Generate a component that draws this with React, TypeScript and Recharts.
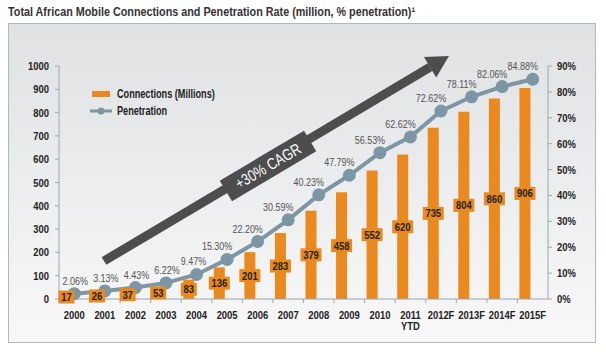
import React from 'react';
import { ComposedChart, Bar, Line, XAxis, YAxis, LabelList, Customized } from 'recharts';

// --- Data ---
const years = ['2000', '2001', '2002', '2003', '2004', '2005', '2006', '2007', '2008', '2009', '2010', '2011\nYTD', '2012F', '2013F', '2014F', '2015F'];
const connections = [17, 26, 37, 53, 83, 136, 201, 283, 379, 458, 552, 620, 735, 804, 860, 906];
const penetration = [2.06, 3.13, 4.43, 6.22, 9.47, 15.30, 22.20, 30.59, 40.23, 47.79, 56.53, 62.62, 72.62, 78.11, 82.06, 84.88];
const leftTicks = [0, 100, 200, 300, 400, 500, 600, 700, 800, 900, 1000];
const rightTicks = [0, 10, 20, 30, 40, 50, 60, 70, 80, 90];

const data = years.map((year, i) => ({ year, connections: connections[i], penetration: penetration[i] }));

// no condensed font available, so squeeze Liberation Sans horizontally
const FONT = "'Liberation Sans', Arial, sans-serif";
const SQUEEZE = 0.82;
const ORANGE = '#EA891D';
const STEEL = '#7C96A4';
const AXIS = '#9AA8B1';

const SText = ({ x, y, anchor = 'middle', sx = SQUEEZE, children, ...rest }: any) => (
  <g transform={`translate(${x},${y}) scale(${sx},1)`}>
    <text x={0} y={0} textAnchor={anchor} fontFamily={FONT} {...rest}>{children}</text>
  </g>
);

const XTick = (props: any) => {
  const { x, y, payload } = props;
  const lines = String(payload.value).split('\n');
  return (
    <g>
      <line x1={x - 15.3} x2={x - 15.3} y1={y - 8} y2={y - 4} stroke={AXIS} />
      {lines.map((l, i) => (
        <SText key={i} x={x} y={y + 12 + i * 11} fontWeight="bold" fontSize={11.5} fill="#222">{l}</SText>
      ))}
    </g>
  );
};

const LeftTick = (props: any) => {
  const { x, y, payload } = props;
  return <SText x={x} y={y + 4} anchor="end" fontWeight="bold" fontSize={11.5} fill="#222">{payload.value}</SText>;
};

const RightTick = (props: any) => {
  const { x, y, payload } = props;
  return <SText x={x} y={y + 4} anchor="start" fontWeight="bold" fontSize={11.5} fill="#222">{`${payload.value}%`}</SText>;
};

const BarValue = (props: any) => {
  const { x, y, width, height, value } = props;
  const w = String(value).length > 2 ? 21 : 16;
  const cx = x + width / 2;
  const cy = y + height / 2;
  return (
    <g>
      <rect x={cx - w / 2} y={cy - 6.5} width={w} height={13} fill={ORANGE} />
      <SText x={cx} y={cy + 4} fontWeight="bold" fontSize={11.5} fill="#222">{value}</SText>
    </g>
  );
};

const PenLabel = (props: any) => {
  const { x, y, value } = props;
  const shift = value > 12 ? -10 : value > 8 ? -3 : 1;
  return <SText x={x + shift} y={y - 9} sx={0.78} fontSize={11.5} fill="#555">{`${value.toFixed(2)}%`}</SText>;
};

// big CAGR arrow drawn on top of the plot
const CagrArrow = () => {
  const sx = 104, sy = 261, tx = 449, ty = 56;
  const len = Math.hypot(tx - sx, ty - sy);
  const ux = (tx - sx) / len, uy = (ty - sy) / len;
  const nx = -uy, ny = ux;
  const bx = tx - 22 * ux, by = ty - 22 * uy;
  const angle = (Math.atan2(ty - sy, tx - sx) * 180) / Math.PI;
  return (
    <g>
      <line x1={sx} y1={sy} x2={bx} y2={by} stroke="#4D4D4D" strokeWidth={9} />
      <polygon points={`${tx},${ty} ${bx + 12 * nx},${by + 12 * ny} ${bx - 12 * nx},${by - 12 * ny}`} fill="#4D4D4D" />
      <g transform={`translate(268,166) rotate(${angle})`}>
        <rect x={-49} y={-12} width={98} height={24} fill="#4D4D4D" />
        <SText x={0} y={5.5} sx={0.8} fontSize={16} fill="#fff">+30% CAGR</SText>
      </g>
    </g>
  );
};

const legendText: React.CSSProperties = {
  display: 'inline-block', transform: 'scaleX(0.76)', transformOrigin: 'left center', whiteSpace: 'nowrap',
};

const App = () => {
  return (
    <div style={{ position: 'absolute', left: 0, top: 0, width: 606, height: 352, background: '#fff' }}>
      <div style={{ position: 'absolute', left: 8, top: 4, fontFamily: FONT, fontWeight: 'bold', fontSize: 13, color: '#333', whiteSpace: 'nowrap', transform: 'scaleX(0.83)', transformOrigin: 'left top' }}>
        Total African Mobile Connections and Penetration Rate (million, % penetration)¹
      </div>
      <div style={{ position: 'absolute', left: 8, top: 23, width: 586, height: 318, border: '1px solid #AEB8BE', background: 'linear-gradient(#DFE1E3, #F8F8F8)' }} />
      <div style={{ position: 'absolute', left: 0, top: 0 }}>
        <ComposedChart width={606} height={352} data={data} margin={{ top: 66, right: 8, bottom: 13, left: 8 }} barSize={11}>
          <XAxis dataKey="year" interval={0} tick={<XTick />} tickLine={false} stroke={AXIS} height={40} />
          <YAxis yAxisId="left" domain={[0, 1000]} ticks={leftTicks} width={51} stroke={AXIS} tickSize={4} tickMargin={6} tick={<LeftTick />} />
          <YAxis yAxisId="right" orientation="right" domain={[0, 90]} ticks={rightTicks} width={50} stroke={AXIS} tickSize={4} tickMargin={5} tick={<RightTick />} />
          <Bar yAxisId="left" dataKey="connections" fill={ORANGE} isAnimationActive={false} />
          <Line yAxisId="right" dataKey="penetration" stroke={STEEL} strokeWidth={4} dot={{ r: 4.5, fill: STEEL, stroke: STEEL }} isAnimationActive={false}>
            <LabelList dataKey="penetration" content={<PenLabel />} />
          </Line>
          <Bar yAxisId="left" dataKey="connections" fill="none" isAnimationActive={false}>
            <LabelList dataKey="connections" content={<BarValue />} />
          </Bar>
          <Customized component={CagrArrow} />
        </ComposedChart>
      </div>
      <div style={{ position: 'absolute', left: 90, top: 85, fontFamily: FONT, fontWeight: 'bold', fontSize: 12, color: '#222' }}>
        <div style={{ display: 'flex', alignItems: 'center', height: 17 }}>
          <span style={{ display: 'inline-block', width: 18, height: 6, background: ORANGE, marginLeft: 2, marginRight: 7 }} />
          <span style={legendText}>Connections (Millions)</span>
        </div>
        <div style={{ display: 'flex', alignItems: 'center', height: 17 }}>
          <svg width={27} height={10}>
            <line x1={0} x2={22} y1={5} y2={5} stroke={STEEL} strokeWidth={3} />
            <circle cx={11} cy={5} r={3.5} fill={STEEL} />
          </svg>
          <span style={legendText}>Penetration</span>
        </div>
      </div>
    </div>
  );
};

export default App;
